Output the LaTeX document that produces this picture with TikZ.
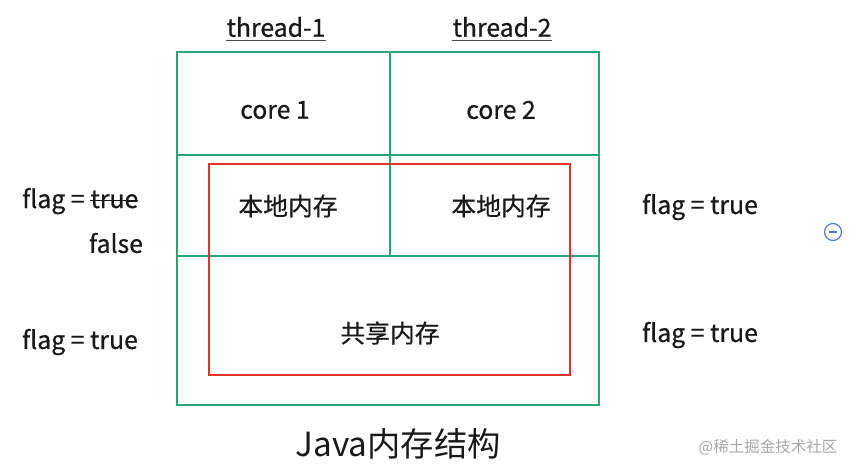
\documentclass[tikz,border=0pt]{standalone}
\usepackage{fontspec}
\setmainfont{Noto Sans CJK SC}[FakeBold=0.6]
\newfontfamily\captionfont{Noto Sans CJK SC}
\usepackage{tikz}
\usetikzlibrary{positioning}
\definecolor{gridgreen}{HTML}{2AA676}
\definecolor{sharedred}{HTML}{E5322B}
\definecolor{iconblue}{HTML}{4A7CC9}
\definecolor{markgray}{HTML}{A8A8A8}

\begin{document}
\begin{tikzpicture}[
    x=1pt, y=-1pt,
    grid/.style={draw=gridgreen, line width=2.7pt},
    shared/.style={draw=sharedred, line width=2pt},
    txt/.style={font=\fontsize{24.8}{26}\selectfont, inner sep=0pt},
    every node/.style={text=black!90}
]
\useasboundingbox (0,0) rectangle (854,466);

% ---- Memory grid ----
\draw[grid] (177,52) rectangle (599,405);
\draw[grid] (177,155) -- (599,155);
\draw[grid] (177,256) -- (599,256);
\draw[grid] (390,52) -- (390,256);

% ---- Shared region ----
\draw[shared] (209,164) rectangle (570,375);

% ---- Threads ----
\node[txt] (thread1) at (276,27) {thread-1};
\node[txt] (thread2) at (502,27) {thread-2};
\draw[black!70, line width=1.2pt] ([yshift=-3pt]thread1.south west) -- ([yshift=-3pt]thread1.south east);
\draw[black!70, line width=1.2pt] ([yshift=-3pt]thread2.south west) -- ([yshift=-3pt]thread2.south east);

% ---- Cores ----
\node[txt] (core1) at (275,110) {core 1};
\node[txt] (core2) at (501,110) {core 2};

% ---- Local memory ----
\node[txt] (local1) at (288,206) {本地内存};
\node[txt] (local2) at (501,206) {本地内存};

% ---- Main memory ----
\node[txt] (mainmem) at (390,333) {共享内存};

% ---- Flag values ----
\node[txt, anchor=base west] (flagl1) at (22,208) {flag =};
\node[txt, anchor=base west] (oldval) at ([xshift=5.5pt]flagl1.base east) {true};
\draw[black!90, line width=1.4pt] ([yshift=-1pt]oldval.west) -- ([yshift=-1pt]oldval.east);
\node[txt] (flagl2) at (116,243) {false};
\node[txt] (flagl3) at (80,342) {flag = true};
\node[txt] (flagr1) at (700,207) {flag = true};
\node[txt] (flagr2) at (700,335) {flag = true};

% ---- Caption ----
\node[inner sep=0pt, font=\captionfont\fontsize{33.3}{35}\selectfont] (caption) at (398,444) {Java内存结构};

% ---- Extras ----
\node[draw=iconblue, circle, line width=1.2pt, minimum size=17pt, inner sep=0pt] (collapse) at (833,232) {};
\draw[iconblue, line width=1.2pt] ([xshift=-4pt]collapse.center) -- ([xshift=4pt]collapse.center);
\node[inner sep=0pt, font=\captionfont\fontsize{15.5}{16}\selectfont, text=markgray] (mark) at (768,447) {@稀土掘金技术社区};

\end{tikzpicture}
\end{document}
